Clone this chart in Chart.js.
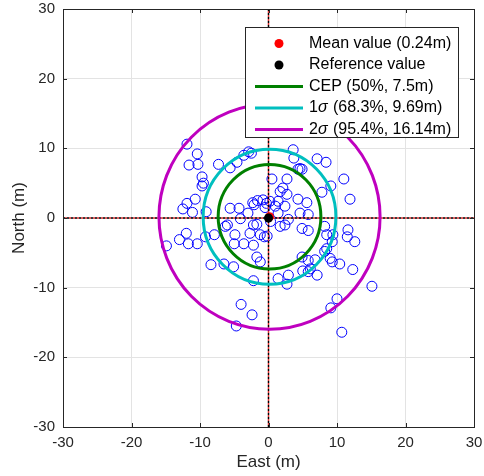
<!DOCTYPE html>
<html>
<head>
<meta charset="utf-8">
<script src="https://cdn.jsdelivr.net/npm/chart.js@4/dist/chart.umd.min.js"></script>
<style>
html,body{margin:0;padding:0;background:#fff;}
#wrap{width:484px;height:476px;position:relative;}
</style>
</head>
<body>
<div id="wrap"><canvas id="c" width="484" height="476"></canvas></div>
<script>
// ---- data (metres) ----
const eastVals = [
 -11.9,-10.4,-11.6,-10.3,-9.7,-9.7,-9.5,-7.3,-5.6,-4.6,-3.6,-2.9,-2.5,
 -12.5,-11.9,-10.7,-11.1,-9.1,-5.6,-4.3,-3.0,-2.1,-0.5,-2.3,-1.6,-0.8,-0.3,
 -6.0,-6.3,-4.1,-2.2,-1.7,-2.7,-1.2,-0.6,-4.9,-5.0,-3.6,-2.2,-1.7,-1.2,
 -7.9,-9.2,-10.4,-11.7,-13.0,-12.0,-14.9,-8.4,-6.5,-5.1,
 0.2,1.4,1.0,2.4,4.3,5.6,4.6,5.8,1.4,2.9,4.9,5.8,1.7,2.4,0.3,-0.2,
 0.5,1.7,2.7,2.7,2.1,3.6,3.7,4.3,4.9,4.6,7.1,8.4,11.0,9.1,7.8,11.9,
 8.2,8.5,9.4,9.3,8.5,8.2,11.6,11.5,12.6,
 4.9,5.8,6.8,6.1,9.0,9.3,10.4,12.3,1.4,2.9,2.7,5.0,5.8,7.1,15.1,10.0,9.1,10.7,
 -4.0,-2.4,-4.7,-2.2
];
const northVals = [
 10.6,9.2,7.6,7.7,5.9,4.6,5.0,7.7,7.2,8.0,9.0,9.5,9.3,
 1.3,2.1,2.7,0.8,0.9,1.4,1.4,0.7,1.9,1.5,2.2,2.5,2.6,2.1,
 -1.0,-1.2,-0.1,-1.0,-0.9,-2.2,-2.4,-2.7,-2.4,-3.7,-3.7,-3.9,-5.6,-6.3,
 -2.4,-2.7,-3.7,-3.7,-3.1,-2.2,-4.0,-6.7,-6.6,-7.0,
 2.4,2.4,1.7,1.7,2.7,2.2,0.7,0.5,0.7,-0.2,-1.5,-1.8,-1.2,-1.0,-0.5,-2.6,
 5.6,3.8,5.6,3.4,4.3,9.8,8.6,7.0,7.0,7.1,8.5,8.0,5.6,4.6,3.7,2.7,
 -1.2,-2.4,-2.4,-3.4,-4.4,-4.8,-1.7,-2.7,-3.4,
 -5.6,-6.1,-6.0,-7.3,-5.8,-6.3,-6.6,-7.4,-8.7,-8.2,-9.5,-7.6,-7.7,-8.2,-9.8,-11.6,-12.9,-16.4,
 -12.4,-13.9,-15.5,-9.0
];
const meanPoint = [0.15, 0.18];
const refPoint = [0, 0];
const circleLabels = ['CEP (50%, 7.5m)', '1σ (68.3%, 9.69m)', '2σ (95.4%, 16.14m)'];
const circleRadii = [7.5, 9.69, 16.14];
const circleColors = ['#008000', '#00bfbf', '#bf00bf'];
const axisTicks = [-30, -20, -10, 0, 10, 20, 30];

const scatterData = eastVals.map((e, i) => ({x: e, y: northVals[i]}));

const TXT = '#262626';
const FONT = '"Liberation Sans", Arial, Helvetica, sans-serif';

const circlesPlugin = {
  id: 'circles',
  afterDatasetsDraw(chart) {
    const ctx = chart.ctx, xs = chart.scales.x, ys = chart.scales.y;
    const cx = xs.getPixelForValue(meanPoint[0]);
    const cy = ys.getPixelForValue(meanPoint[1]);
    ctx.save();
    for (let i = 0; i < circleRadii.length; i++) {
      const rx = xs.getPixelForValue(meanPoint[0] + circleRadii[i]) - cx;
      const ry = cy - ys.getPixelForValue(meanPoint[1] + circleRadii[i]);
      ctx.beginPath();
      ctx.ellipse(cx, cy, rx, ry, 0, 0, Math.PI * 2);
      ctx.strokeStyle = circleColors[i];
      ctx.lineWidth = 3;
      ctx.stroke();
    }
    ctx.fillStyle = '#ff0000';
    ctx.beginPath();
    ctx.arc(xs.getPixelForValue(meanPoint[0]), ys.getPixelForValue(meanPoint[1]), 4.5, 0, Math.PI * 2);
    ctx.fill();
    ctx.fillStyle = '#000000';
    ctx.beginPath();
    ctx.arc(xs.getPixelForValue(refPoint[0]), ys.getPixelForValue(refPoint[1]), 4.5, 0, Math.PI * 2);
    ctx.fill();
    ctx.restore();
  },
  afterDraw(chart) {
    const ctx = chart.ctx, a = chart.chartArea, xs = chart.scales.x, ys = chart.scales.y;
    ctx.save();
    ctx.strokeStyle = TXT;
    ctx.lineWidth = 1;
    ctx.strokeRect(Math.round(a.left) + 0.5, Math.round(a.top) + 0.5, Math.round(a.right - a.left), Math.round(a.bottom - a.top));
    ctx.beginPath();
    axisTicks.forEach(v => {
      const px = Math.round(xs.getPixelForValue(v)) + 0.5;
      ctx.moveTo(px, a.bottom); ctx.lineTo(px, a.bottom - 4);
      ctx.moveTo(px, a.top); ctx.lineTo(px, a.top + 4);
      const py = Math.round(ys.getPixelForValue(v)) + 0.5;
      ctx.moveTo(a.left, py); ctx.lineTo(a.left + 4, py);
      ctx.moveTo(a.right, py); ctx.lineTo(a.right - 4, py);
    });
    ctx.stroke();
    // legend
    const L = 245.5, T = 27.5, W = 213, H = 110;
    ctx.fillStyle = '#ffffff';
    ctx.fillRect(L, T, W, H);
    ctx.strokeStyle = TXT;
    ctx.strokeRect(L, T, W, H);
    const rows = [43.5, 65, 86.5, 108, 129.5];
    const textX = 309;
    ctx.font = '16px ' + FONT;
    ctx.textBaseline = 'middle';
    ctx.textAlign = 'left';
    ctx.fillStyle = '#ff0000';
    ctx.beginPath(); ctx.arc(279, rows[0], 4.5, 0, Math.PI * 2); ctx.fill();
    ctx.fillStyle = '#000000';
    ctx.beginPath(); ctx.arc(279, rows[1], 4.5, 0, Math.PI * 2); ctx.fill();
    ctx.fillStyle = '#000000';
    ctx.fillText('Mean value (0.24m)', textX, rows[0]);
    ctx.fillText('Reference value', textX, rows[1]);
    for (let i = 0; i < 3; i++) {
      const y = rows[2 + i];
      ctx.beginPath();
      ctx.moveTo(255, y); ctx.lineTo(303, y);
      ctx.strokeStyle = circleColors[i];
      ctx.lineWidth = 3;
      ctx.stroke();
      ctx.fillStyle = '#000000';
      const lab = circleLabels[i];
      const si = lab.indexOf('σ');
      if (si < 0) {
        ctx.font = '16px ' + FONT;
        ctx.fillText(lab, textX, y);
      } else {
        let x = textX;
        const pre = lab.slice(0, si), post = lab.slice(si + 1);
        ctx.font = '16px ' + FONT;
        ctx.fillText(pre, x, y); x += ctx.measureText(pre).width;
        ctx.font = 'italic 16px ' + FONT;
        ctx.fillText('σ', x, y); x += ctx.measureText('σ').width + 1;
        ctx.font = '16px ' + FONT;
        ctx.fillText(post, x, y);
      }
    }
    ctx.restore();
  }
};

new Chart(document.getElementById('c'), {
  type: 'scatter',
  data: {
    datasets: [
      {
        label: 'vline-black', type: 'line',
        data: [{x: 0, y: -30}, {x: 0, y: 30}],
        borderColor: '#000000', borderWidth: 1.5, borderDash: [2, 2],
        pointRadius: 0, fill: false, order: 1
      },
      {
        label: 'vline-red', type: 'line',
        data: [{x: 0, y: -30}, {x: 0, y: 30}],
        borderColor: '#e03030', borderWidth: 1.5, borderDash: [2, 2], borderDashOffset: 2,
        pointRadius: 0, fill: false, order: 2
      },
      {
        label: 'hline-black', type: 'line',
        data: [{x: -30, y: 0}, {x: 30, y: 0}],
        borderColor: '#000000', borderWidth: 1.5, borderDash: [2, 2],
        pointRadius: 0, fill: false, order: 1
      },
      {
        label: 'hline-red', type: 'line',
        data: [{x: -30, y: 0}, {x: 30, y: 0}],
        borderColor: '#e03030', borderWidth: 1.5, borderDash: [2, 2], borderDashOffset: 2,
        pointRadius: 0, fill: false, order: 2
      },
      {
        label: 'Samples',
        data: scatterData,
        pointStyle: 'circle',
        pointRadius: 5,
        pointBorderWidth: 1,
        borderColor: '#0000ff',
        backgroundColor: 'rgba(0,0,0,0)',
        order: 3
      }
    ]
  },
  options: {
    responsive: false,
    animation: false,
    events: [],
    layout: {padding: {top: 9, right: 10, left: 0, bottom: 0}},
    plugins: {legend: {display: false}, tooltip: {enabled: false}},
    scales: {
      x: {
        type: 'linear', min: -30, max: 30,
        afterFit(s) { s.height = 49; s.paddingLeft = 0; s.paddingRight = 0; },
        afterBuildTicks(s) { s.ticks = axisTicks.map(v => ({value: v})); },
        grid: {color: '#e3e3e3', drawTicks: false},
        border: {display: false},
        ticks: {color: TXT, font: {size: 15, family: FONT}, padding: 7, maxRotation: 0},
        title: {display: true, text: 'East (m)', color: TXT, font: {size: 17, family: FONT}, padding: {top: 0, bottom: 3}}
      },
      y: {
        type: 'linear', min: -30, max: 30,
        afterFit(s) { s.width = 63; s.paddingTop = 0; s.paddingBottom = 0; },
        afterBuildTicks(s) { s.ticks = axisTicks.map(v => ({value: v})); },
        grid: {color: '#e3e3e3', drawTicks: false},
        border: {display: false},
        ticks: {color: TXT, font: {size: 15, family: FONT}, padding: 8},
        title: {display: true, text: 'North (m)', color: TXT, font: {size: 17, family: FONT}, padding: {top: 9, bottom: 0}}
      }
    }
  },
  plugins: [circlesPlugin]
});
</script>
</body>
</html>
